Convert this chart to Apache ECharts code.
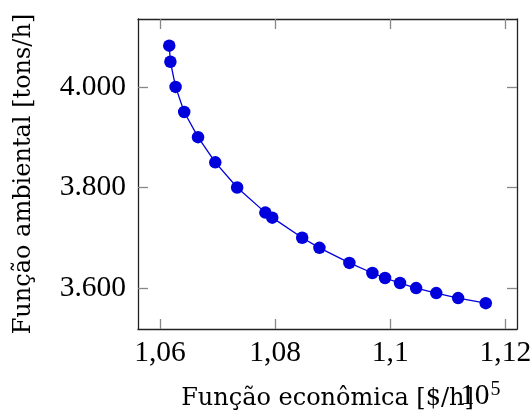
<!DOCTYPE html>
<html>
<head>
<meta charset="utf-8">
<script src="https://cdn.jsdelivr.net/npm/echarts@6/dist/echarts.min.js"></script>
<style>
html,body{margin:0;padding:0;background:#fff;}
#chart{width:532px;height:416px;}
</style>
</head>
<body>
<div id="chart"></div>
<script>
// Economic objective (×10^5 $/h)
var economico = [1.0616, 1.0618, 1.0627, 1.0642, 1.0666, 1.0696, 1.0734, 1.0783, 1.0795, 1.0847, 1.0877, 1.0929, 1.0969, 1.0991, 1.1017, 1.1045, 1.1080, 1.1118, 1.1166];
// Environmental objective (tons/h)
var ambiental = [4082, 4050, 4000, 3950, 3900, 3850, 3800, 3750, 3740, 3700, 3680, 3650, 3630, 3620, 3610, 3600, 3590, 3580, 3570];
var xTicks = [1.06, 1.08, 1.1, 1.12];
var yTicks = [3600, 3800, 4000];
var xTitle = 'Função econômica [$/h]';
var yTitle = 'Função ambiental [tons/h]';

var pts = economico.map(function (v, i) { return [v, ambiental[i]]; });
var FONT = 'Liberation Serif';
var TFONT = 'DejaVu Serif';
var xMin = 1.05617, xMax = 1.12203, yMin = 3518.6, yMax = 4135;

function fmtX(v) { return String(+v.toFixed(4)).replace('.', ','); }
function fmtY(v) { return String(Math.round(v)).replace(/\B(?=(\d{3})+(?!\d))/g, '.'); }

var lineStyle = { color: '#222', width: 1.3 };
var tickStyle = { color: '#888', width: 1.3 };

function xAxisDef(pos, showLabel) {
  return {
    type: 'value', position: pos, min: xMin, max: xMax,
    axisLine: { show: true, onZero: false, lineStyle: lineStyle },
    axisTick: { show: true, inside: true, length: 10, lineStyle: tickStyle, customValues: xTicks },
    axisLabel: { show: showLabel, customValues: xTicks, formatter: fmtX, fontFamily: FONT, fontSize: 29.5, color: '#000', margin: 9 },
    splitLine: { show: false }
  };
}
function yAxisDef(pos, showLabel) {
  return {
    type: 'value', position: pos, min: yMin, max: yMax,
    axisLine: { show: true, onZero: false, lineStyle: lineStyle },
    axisTick: { show: true, inside: true, length: 10, lineStyle: tickStyle, customValues: yTicks },
    axisLabel: { show: showLabel, customValues: yTicks, formatter: fmtY, fontFamily: FONT, fontSize: 29.5, color: '#000', margin: 12 },
    splitLine: { show: false }
  };
}

var xb = xAxisDef('bottom', true);
xb.name = xTitle; xb.nameLocation = 'middle'; xb.nameGap = 58;
xb.nameTextStyle = { fontFamily: TFONT, fontSize: 24, color: '#000' };
var yl = yAxisDef('left', true);
yl.name = yTitle; yl.nameLocation = 'middle'; yl.nameGap = 102;
yl.nameTextStyle = { fontFamily: TFONT, fontSize: 24, color: '#000' };

var chart = echarts.init(document.getElementById('chart'), null, { renderer: 'canvas' });
chart.setOption({
  animation: false,
  backgroundColor: '#fff',
  grid: { left: 138, top: 19, right: 15, bottom: 87, containLabel: false, outerBoundsMode: 'none' },
  xAxis: [xb, xAxisDef('top', false)],
  yAxis: [yl, yAxisDef('right', false)],
  graphic: [{
    type: 'text', x: 460, y: 380,
    style: {
      text: '{a|10}{b|5}',
      rich: {
        a: { fontFamily: FONT, fontSize: 29.5, fill: '#000', color: '#000' },
        b: { fontFamily: FONT, fontSize: 20, fill: '#000', color: '#000', verticalAlign: 'top', padding: [0, 0, 12, 1] }
      }
    }
  }],
  series: [{
    type: 'line', xAxisIndex: 0, yAxisIndex: 0,
    data: pts,
    symbol: 'circle', symbolSize: 12.5,
    itemStyle: { color: '#0000dd' },
    lineStyle: { color: '#0000dd', width: 1.3 }
  }]
});
</script>
</body>
</html>
